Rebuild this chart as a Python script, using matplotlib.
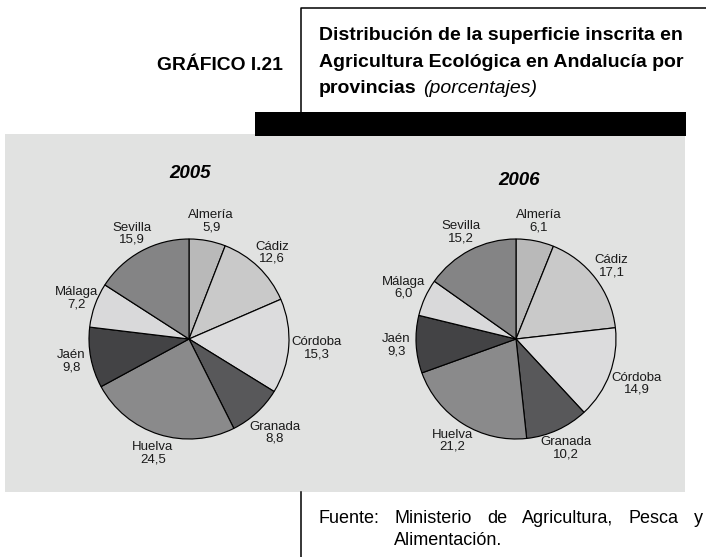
import matplotlib
matplotlib.use("Agg")
import matplotlib.pyplot as plt
from matplotlib.patches import Rectangle
import numpy as np

# datos
provincias = ["Almería", "Cádiz", "Córdoba", "Granada", "Huelva", "Jaén", "Málaga", "Sevilla"]
valores_2005 = [5.9, 12.6, 15.3, 8.8, 24.5, 9.8, 7.2, 15.9]
valores_2006 = [6.1, 17.1, 14.9, 10.2, 21.2, 9.3, 6.0, 15.2]
anios = ["2005", "2006"]

titulo = ["Distribución de la superficie inscrita en",
          "Agricultura Ecológica en Andalucía por"]
fuente_l1 = "Fuente: Ministerio de Agricultura, Pesca y"
fuente_l2 = "Alimentación."

colores = ["#b9b9b9", "#c9c9c9", "#dcdcdd", "#58585a",
           "#8a8a8b", "#434345", "#d9d9da", "#848485"]

W, H = 706, 557
plt.rcParams["font.family"] = ["Liberation Sans", "DejaVu Sans"]

fig = plt.figure(figsize=(W / 100, H / 100), dpi=100)
bg = fig.add_axes([0, 0, 1, 1])
bg.set_xlim(0, W)
bg.set_ylim(H, 0)
bg.axis("off")

# fondo gris, barra negra y filetes
bg.add_patch(Rectangle((5, 134), 680, 358, color="#e1e2e1", lw=0))
bg.add_patch(Rectangle((255, 112), 431, 24, color="black", lw=0))
bg.plot([301, 301, W], [112, 8, 8], color="black", lw=1.1)
bg.plot([301, 301], [492, H], color="black", lw=1.1)

# cabecera
bg.text(283, 70, "GRÁFICO I.21", ha="right", va="baseline",
        fontsize=13.9, fontweight="bold")
for txt, y in zip(titulo, [40, 67]):
    bg.text(319, y, txt, va="baseline", fontsize=14, fontweight="bold")
t_prov = bg.text(319, 93, "provincias", va="baseline", fontsize=14, fontweight="bold")

renderer = fig.canvas.get_renderer()
bb = t_prov.get_window_extent(renderer)
bg.text(bb.x1 + 6, 93, "(porcentajes)", va="baseline", fontsize=14, style="italic")

# fuente, justificada en la primera linea
palabras = fuente_l1.split()
textos = [bg.text(0, 523, p, va="baseline", fontsize=13) for p in palabras]
anchos = [t.get_window_extent(renderer).width for t in textos]
hueco = (703 - 318 - sum(anchos)) / (len(palabras) - 1)
x = 318
for t, a in zip(textos, anchos):
    t.set_x(x)
    x += a + hueco
bg.text(textos[1].get_position()[0], 545, fuente_l2, va="baseline", fontsize=13)

# tartas
centros = [(189, 339), (516, 339)]
pos_anio = [(190, 178), (519.5, 185)]
dist_extra = [{"Córdoba": 1.28, "Granada": 1.27},
              {"Córdoba": 1.29, "Málaga": 1.24}]
R = 100
for vals, anio, (cx, cy), (xa, ya), extra in zip([valores_2005, valores_2006], anios,
                                                 centros, pos_anio, dist_extra):
    ax = fig.add_axes([(cx - 1.25 * R) / W, (H - cy - 1.25 * R) / H, 2.5 * R / W, 2.5 * R / H])
    wedges, _ = ax.pie(vals, colors=colores, startangle=90, counterclock=False,
                       wedgeprops=dict(edgecolor="black", linewidth=0.85))
    ax.set_xlim(-1.25, 1.25)
    ax.set_ylim(-1.25, 1.25)
    for w, nombre, v in zip(wedges, provincias, vals):
        ang = np.deg2rad((w.theta1 + w.theta2) / 2)
        d = extra.get(nombre, 1.2)
        etiqueta = f"{nombre}\n{v:.1f}".replace(".", ",")
        ax.text(d * np.cos(ang), d * np.sin(ang), etiqueta, ha="center", va="center",
                fontsize=9.5, linespacing=1.0, color="#1a1a1a")
    bg.text(xa, ya, anio, ha="center", va="baseline", fontsize=13.5,
            fontweight="bold", style="italic")

fig.savefig("out.png", dpi=100)
